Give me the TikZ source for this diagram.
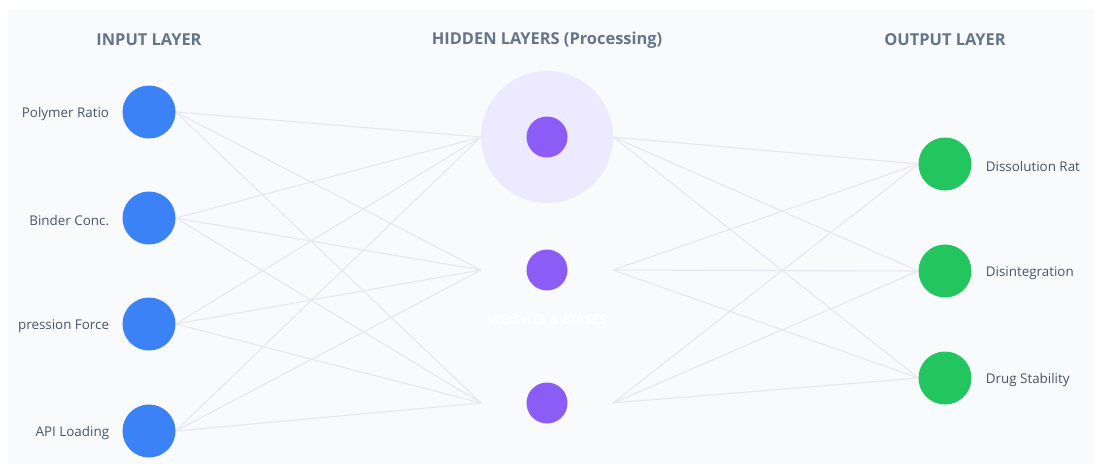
\documentclass[tikz,border=0pt]{standalone}
\usepackage{fontspec}
\setmainfont{Open Sans}
\usepackage{xcolor}
\usetikzlibrary{positioning, backgrounds}
\definecolor{panelbg}{HTML}{F8FAFC}
\definecolor{inblue}{HTML}{3B82F6}
\definecolor{hidpurple}{HTML}{8B5CF6}
\definecolor{halopurple}{HTML}{EDE9FE}
\definecolor{outgreen}{HTML}{22C55E}
\definecolor{wiregray}{HTML}{E5E9EF}
\definecolor{headgray}{HTML}{64748B}
\definecolor{lblgray}{HTML}{475569}

\begin{document}
\begin{tikzpicture}[x=1pt,y=-1pt,
    inp/.style={circle,fill=inblue,minimum size=53pt,inner sep=0pt},
    hid/.style={circle,fill=hidpurple,minimum size=41pt,inner sep=0pt},
    outp/.style={circle,fill=outgreen,minimum size=53pt,inner sep=0pt},
    halo/.style={circle,fill=halopurple,minimum size=132pt,inner sep=0pt},
    head/.style={font=\fontsize{16.4}{18}\selectfont\bfseries,text=headgray},
    lbl/.style={font=\fontsize{13.4}{15}\selectfont,text=lblgray,inner sep=0pt,yshift=-2.5pt},
    wire/.style={draw=wiregray,line width=1.1pt}]
    \useasboundingbox (0,0) rectangle (1094,466);

    % column titles
    \node[head] (tin) at (149,40) {INPUT LAYER};
    \node[head] (thid) at (547,40) {HIDDEN LAYERS (Processing)};
    \node[head] (tout) at (945,40) {OUTPUT LAYER};

    % input layer
    \node[inp] (i1) at (149,112) {};
    \node[inp] (i2) at (149,218) {};
    \node[inp] (i3) at (149,324) {};
    \node[inp] (i4) at (149,431) {};
    \node[lbl,left=13pt of i1] {Polymer Ratio};
    \node[lbl,left=13pt of i2] {Binder Conc.};
    \node[lbl,left=13pt of i3] {pression Force};
    \node[lbl,left=13pt of i4] {API Loading};

    % hidden layer
    \node[halo] (g1) at (547,137) {};
    \node[hid] (h1) at (547,137) {};
    \node[hid] (h2) at (547,270) {};
    \node[hid] (h3) at (547,403) {};
    \coordinate (h1w) at (g1.west);
    \coordinate (h1e) at (g1.east);
    \coordinate (h2w) at (481,270);
    \coordinate (h2e) at (613,270);
    \coordinate (h3w) at (481,403);
    \coordinate (h3e) at (613,403);
    \node[font=\fontsize{13}{15}\selectfont\bfseries,text=white] (wb) at (547,320) {WEIGHTS \& BIASES};

    % output layer
    \node[outp] (o1) at (945,164) {};
    \node[outp] (o2) at (945,271) {};
    \node[outp] (o3) at (945,378) {};
    \node[lbl,right=14pt of o1] {Dissolution Rat};
    \node[lbl,right=14pt of o2] {Disintegration};
    \node[lbl,right=14pt of o3] {Drug Stability};

    \begin{scope}[on background layer]
        \fill[panelbg] (8,9) rectangle (1094,464);
        \foreach \i in {1,...,4}
            \foreach \j in {1,2,3}
                \draw[wire] (i\i.east) -- (h\j w);
        \foreach \j in {1,2,3}
            \foreach \k in {1,2,3}
                \draw[wire] (h\j e) -- (o\k.west);
    \end{scope}
\end{tikzpicture}
\end{document}
